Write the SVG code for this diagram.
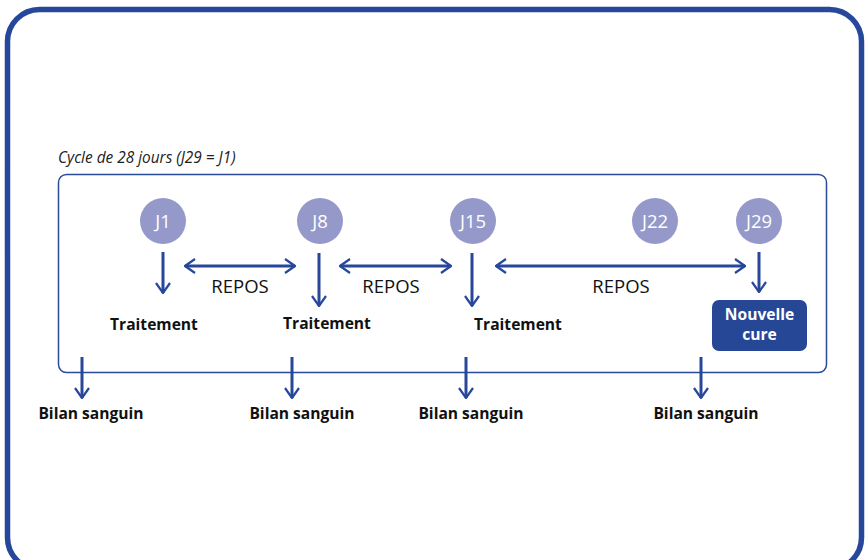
<svg xmlns="http://www.w3.org/2000/svg" width="866" height="560" viewBox="0 0 866 560">
<defs>
<marker id="ah" viewBox="0 0 12 16" refX="11" refY="8" markerWidth="12" markerHeight="16" markerUnits="userSpaceOnUse" orient="auto-start-reverse">
<path d="M1,1 L11,8 L1,15" fill="none" stroke="#27479a" stroke-width="2.2"/>
</marker>
<style>
.con{stroke:#27479a;stroke-width:3;fill:none;marker-end:url(#ah)}
.dbl{marker-start:url(#ah)}
.day{fill:#9499ca}
.dayt{font-family:"Open Sans","Noto Sans",sans-serif;font-size:18.5px;fill:#fff;text-anchor:middle}
.rep{font-family:"Open Sans","Noto Sans",sans-serif;font-size:18.5px;fill:#111;text-anchor:middle}
.lbl{font-family:"Open Sans","Noto Sans",sans-serif;font-size:15.6px;font-weight:bold;fill:#111;text-anchor:middle}
</style>
</defs>
<rect width="866" height="560" fill="#fff"/>
<rect x="7.5" y="9.5" width="854" height="560" rx="32" fill="none" stroke="#27479a" stroke-width="5.5"/>
<text x="58" y="163" font-family="'Open Sans','Noto Sans',sans-serif" font-size="15.4" font-style="italic" fill="#222">Cycle de 28 jours (J29 = J1)</text>
<rect id="cycle" x="58.5" y="174.5" width="768" height="198" rx="8" fill="none" stroke="#2a4a9a" stroke-width="1.5"/>
<g id="j1"><circle class="day" cx="163" cy="221" r="23"/><text class="dayt" x="163" y="228">J1</text></g>
<g id="j8"><circle class="day" cx="320" cy="221" r="23"/><text class="dayt" x="320" y="228">J8</text></g>
<g id="j15"><circle class="day" cx="473" cy="221" r="23"/><text class="dayt" x="473" y="228">J15</text></g>
<g id="j22"><circle class="day" cx="655" cy="221" r="23"/><text class="dayt" x="655" y="228">J22</text></g>
<g id="j29"><circle class="day" cx="759" cy="221" r="23"/><text class="dayt" x="759" y="228">J29</text></g>
<g id="t1"><text class="lbl" x="154" y="330">Traitement</text></g>
<g id="t2"><text class="lbl" x="327" y="329">Traitement</text></g>
<g id="t3"><text class="lbl" x="518" y="330">Traitement</text></g>
<g id="nc"><rect x="712" y="300" width="95" height="51" rx="7" fill="#264796"/><text class="lbl" x="759.5" y="320" style="fill:#fff">Nouvelle</text><text class="lbl" x="759.5" y="340" style="fill:#fff;font-size:15.6px">cure</text></g>
<g id="b1"><text class="lbl" x="91" y="419">Bilan sanguin</text></g>
<g id="b2"><text class="lbl" x="302" y="419">Bilan sanguin</text></g>
<g id="b3"><text class="lbl" x="471" y="419">Bilan sanguin</text></g>
<g id="b4"><text class="lbl" x="706" y="419">Bilan sanguin</text></g>
<g id="reposlabels">
<text class="rep" x="240" y="293">REPOS</text>
<text class="rep" x="391" y="293">REPOS</text>
<text class="rep" x="621" y="293">REPOS</text>
</g>
<g id="connectors">
<path class="con" d="M163,252 V293"/>
<path class="con" d="M319,253 V306"/>
<path class="con" d="M472,253 V306"/>
<path class="con" d="M759,252 V292"/>
<path class="con dbl" d="M185,266 H295"/>
<path class="con dbl" d="M340,266 H451"/>
<path class="con dbl" d="M496,266 H745"/>
<path class="con" d="M82,357 V398"/>
<path class="con" d="M292,357 V398"/>
<path class="con" d="M466,357 V398"/>
<path class="con" d="M701,357 V398"/>
</g>
</svg>
